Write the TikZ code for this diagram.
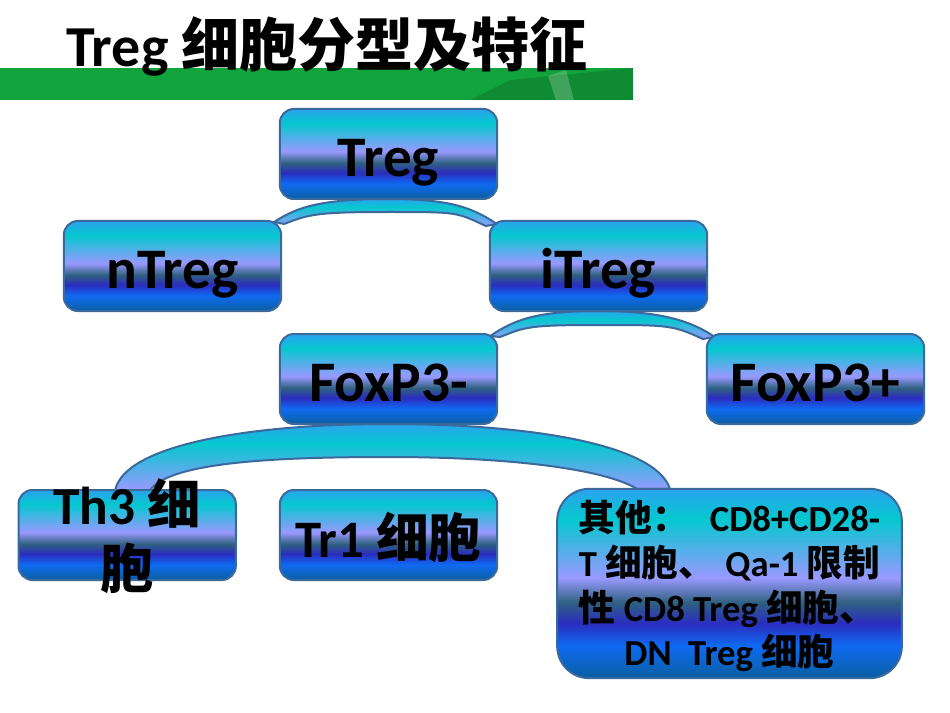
\documentclass[tikz,border=0pt]{standalone}
\usepackage{fontspec}
\setmainfont{Carlito}
\newfontfamily\cjk{Noto Sans CJK SC}
\usetikzlibrary{calc,backgrounds}
\definecolor{edgeblue}{HTML}{3A6A9C}
\definecolor{skyblue}{HTML}{2AA3EE}
\definecolor{tealblue}{HTML}{05C8CF}
\definecolor{lilac}{HTML}{9999FF}
\definecolor{slateblue}{HTML}{2F6080}
\definecolor{indigo}{HTML}{2B2DBF}
\definecolor{brightblue}{HTML}{0F6AF2}
\definecolor{deepblue}{HTML}{0A5FA0}
\definecolor{bandgreen}{HTML}{12A33C}
\pgfdeclareverticalshading{boxfill}{100bp}{color(0bp)=(deepblue); color(25bp)=(deepblue); color(33.5bp)=(brightblue); color(39.5bp)=(indigo); color(45bp)=(slateblue); color(51.5bp)=(lilac); color(67bp)=(tealblue); color(75bp)=(skyblue); color(100bp)=(skyblue)}
\pgfdeclareverticalshading{archfill}{100bp}{color(0bp)=(lilac); color(25bp)=(lilac); color(60bp)=(tealblue); color(75bp)=(skyblue); color(100bp)=(skyblue)}
\tikzset{
    typebox/.style={rounded corners=10.5pt,draw=edgeblue,line width=1.5pt,shading=boxfill,minimum width=163pt,minimum height=67.5pt,inner sep=0pt,outer sep=0pt,align=center,text height=34pt,text depth=0pt,font=\fontsize{43}{45}\selectfont\bfseries},
    branch/.style={draw=edgeblue,line width=1.5pt,shading=archfill},
}
\begin{document}
\begin{tikzpicture}[x=0.75pt,y=-0.75pt,node distance=84pt]
        \useasboundingbox (0,0) rectangle (950,713);
        % green band under the title
        \fill[bandgreen] (0,68) rectangle (633,100);
        \fill[black!45!bandgreen,opacity=.3] (470,100) -- (510,80) -- (633,68) -- (633,100) -- cycle;
        \fill[white,opacity=.2] (548,76) -- (566,70) -- (574,100) -- (556,100) -- cycle;
        \node[font=\fontsize{43.5}{45}\selectfont\bfseries] (title) at (327,46) {Treg {\cjk 细胞分型及特征}};

        \node[typebox] (treg) at (388.5,154) {Treg};
        \node[typebox] (ntreg) [below of = treg, xshift=-162pt]{nTreg};
        \node[typebox] (itreg) [below of = treg, xshift=157.5pt]{iTreg};
        \node[typebox] (foxm) [below of = itreg, yshift=-0.75pt, xshift=-157.5pt]{FoxP3-};
        \node[typebox] (foxp) [below of = itreg, yshift=-0.75pt, xshift=162.75pt]{FoxP3+};
        \node[typebox, text height=0pt, font=\fontsize{40}{48}\selectfont\bfseries] (th3) [below of = foxm, yshift=-33pt, xshift=-196pt]{\raisebox{-7pt}[0pt][0pt]{\parbox[c]{150pt}{\centering Th3 {\cjk 细}\\{\cjk 胞}}}};
        \node[typebox, font=\fontsize{39.5}{45}\selectfont\bfseries] (tr1) [below of = foxm, yshift=-33pt]{Tr1 {\cjk 细胞}};
        \node[typebox, text height=, text depth=, rounded corners=24pt, minimum width=258.5pt, minimum height=142pt, font=\fontsize{27.5}{33.5}\selectfont\bfseries] (other) at (729.5,583.5){%
            \makebox[226pt][l]{\rule{0pt}{27.6pt}{\cjk 其他：}\hfill CD8+CD28-}\\
            \makebox[226pt][l]{T {\cjk 细胞、}\hfill Qa-1 {\cjk 限制}}\\
            \makebox[226pt][l]{{\cjk 性} CD8 Treg {\cjk 细胞、}}\\
            DN\ \ Treg {\cjk 细胞}};

        \begin{scope}[on background layer]
            \draw[branch] ($(ntreg.north east)+(-7,1)$) .. controls +(25,-17) and +(-60,0) .. (treg.south)
                .. controls +(60,0) and +(-25,-17) .. ($(itreg.north west)+(7,3)$)
                -- ($(itreg.north west)+(-4,5)$) .. controls +(-30,-14) and +(70,0) .. ($(treg.south)+(0,13)$)
                .. controls +(-70,0) and +(25,-10) .. ($(ntreg.north east)+(3,3)$) -- cycle;
            \draw[branch] ($(foxm.north east)+(-7,2)$) .. controls +(25,-17) and +(-60,0) .. (itreg.south)
                .. controls +(60,0) and +(-25,-17) .. ($(foxp.north west)+(8,3)$)
                -- ($(foxp.north west)+(-4,5)$) .. controls +(-30,-14) and +(70,0) .. ($(itreg.south)+(0,14)$)
                .. controls +(-70,0) and +(25,-10) .. ($(foxm.north east)+(3,3)$) -- cycle;
            \draw[branch] ($(th3.north)+(-12,0)$) .. controls +(10,-45) and +(-140,0) .. (foxm.south)
                .. controls +(140,0) and +(-15,-45) .. ($(other.north)+(-59.5,0)$)
                -- ($(other.north)+(-92.5,0)$) .. controls +(-37,-22) and +(108,0) .. ($(foxm.south)+(0,33)$)
                .. controls +(-112,0) and +(20,-28) .. ($(th3.north)+(23,0)$) -- cycle;
        \end{scope}
\end{tikzpicture}
\end{document}
